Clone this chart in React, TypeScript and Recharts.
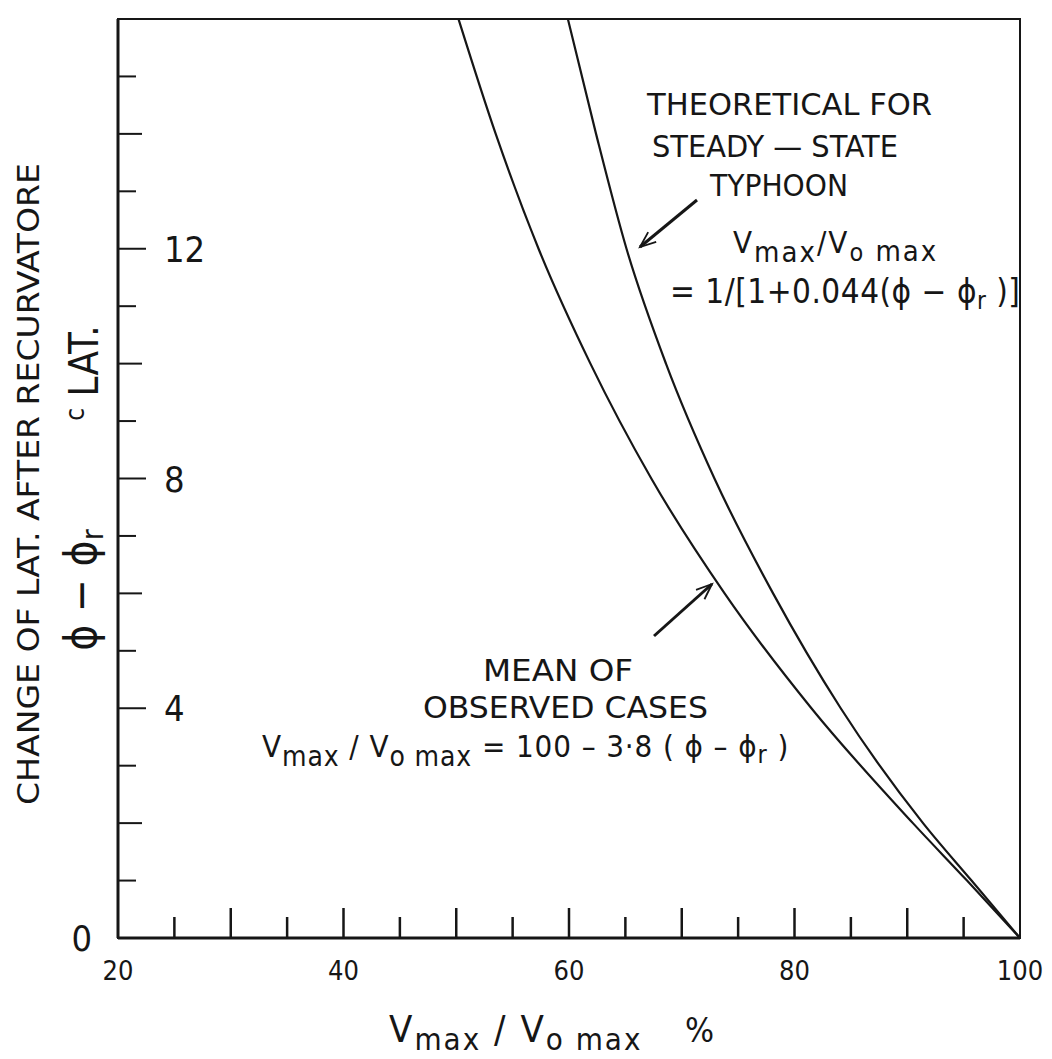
import { LineChart, Line, XAxis, YAxis, ReferenceArea } from 'recharts';

// Vmax / Vo max (%) read at every 2 deg of latitude change after recurvature
const meanPct = [50.2, 53.5, 57.3, 61.9, 67.3, 73.8, 81.5, 90.5, 95.3, 100];
const meanLat = [16, 14, 12, 10, 8, 6, 4, 2, 1, 0];
const theoPct = [59.9, 62.4, 65.1, 68.6, 72.9, 78.1, 84.1, 91.4, 95.7, 100];
const theoLat = [16, 14, 12, 10, 8, 6, 4, 2, 1, 0];

const xTicks = [20, 25, 30, 35, 40, 45, 50, 55, 60, 65, 70, 75, 80, 85, 90, 95, 100];
const xTickLabels = [20, 40, 60, 80, 100];
const yTicks = [0, 1, 2, 3, 4, 5, 6, 7, 8, 9, 10, 11, 12, 13, 14, 15, 16];
const yTickLabels = [0, 4, 8, 12];

const meanData = meanPct.map((x, i) => ({ x, y: meanLat[i] }));
const theoData = theoPct.map((x, i) => ({ x, y: theoLat[i] }));

const INK = '#161616';
const FONT = "'DejaVu Sans Condensed', 'Liberation Sans Narrow', 'Roboto Condensed', 'DejaVu Sans', sans-serif";

const W = 1036;
const H = 1051;

const XTick = (props: any) => {
    const { x, y, payload } = props;
    const v = payload.value;
    const major = v % 10 === 0;
    return (
        <g>
            {v > 20 && v < 100 && (
                <line x1={x} x2={x} y1={y} y2={y - (major ? 30 : 21)} stroke={INK} strokeWidth={2.5} />
            )}
            {xTickLabels.includes(v) && (
                <text x={x} y={y + 42} textAnchor="middle" fontSize={27} fontFamily={FONT} fill={INK}>
                    {v}
                </text>
            )}
        </g>
    );
};

const YTick = (props: any) => {
    const { x, y, payload } = props;
    const v = payload.value;
    const major = v % 4 === 0;
    const len = major ? 28 : v % 2 === 0 ? 24 : 18;
    return (
        <g>
            {v > 0 && v < 16 && <line x1={x} x2={x + len} y1={y} y2={y} stroke={INK} strokeWidth={2} />}
            {yTickLabels.includes(v) && (
                <text
                    x={v === 0 ? x - 26 : x + 46}
                    y={y + 13}
                    textAnchor={v === 0 ? 'end' : 'start'}
                    fontSize={36}
                    fontFamily={FONT}
                    fill={INK}
                >
                    {v}
                </text>
            )}
        </g>
    );
};

const Arrow = ({ x1, y1, x2, y2 }: { x1: number; y1: number; x2: number; y2: number }) => {
    const a = Math.atan2(y2 - y1, x2 - x1);
    const h = 17;
    const p1 = [x2 - h * Math.cos(a - 0.38), y2 - h * Math.sin(a - 0.38)];
    const p2 = [x2 - h * Math.cos(a + 0.38), y2 - h * Math.sin(a + 0.38)];
    return (
        <g stroke={INK} fill="none">
            <line x1={x1} y1={y1} x2={x2} y2={y2} strokeWidth={3} />
            <polyline points={`${p1[0]},${p1[1]} ${x2},${y2} ${p2[0]},${p2[1]}`} strokeWidth={1.8} />
        </g>
    );
};

const Annotations = () => (
    <svg
        width={W}
        height={H}
        style={{ position: 'absolute', left: 0, top: 0, pointerEvents: 'none' }}
        fontFamily={FONT}
        fill={INK}
        xmlSpace="preserve"
    >
        {/* y axis title */}
        <text transform="translate(31,476) rotate(-90)" textAnchor="middle" fontSize={30} textLength={642} lengthAdjust="spacingAndGlyphs">
            CHANGE OF LAT.  AFTER RECURVATORE
        </text>
        <text transform="translate(88,582) rotate(-90)" textAnchor="middle" fontSize={44}>
            ϕ − ϕ<tspan fontSize={30} dy={7}>r</tspan>
        </text>
        <text transform="translate(90,365) rotate(-90)" textAnchor="middle" fontSize={40}>
            <tspan fontSize={26} dy={-14}>c</tspan>
            <tspan dy={14}> LAT.</tspan>
        </text>

        {/* theoretical curve note */}
        <text x={639} y={107} fontSize={31} textLength={285} lengthAdjust="spacingAndGlyphs">THEORETICAL  FOR</text>
        <text x={644} y={149} fontSize={31} textLength={246} lengthAdjust="spacingAndGlyphs">STEADY — STATE</text>
        <text x={702} y={188} fontSize={31} textLength={138} lengthAdjust="spacingAndGlyphs">TYPHOON</text>
        <Arrow x1={689} y1={192} x2={632} y2={239} />
        <text x={725} y={245} fontSize={31} letterSpacing={2}>
            V<tspan fontSize={29} dy={9}>max</tspan>
            <tspan dy={-9}>/V</tspan>
            <tspan fontSize={25} dy={8}>o</tspan>
            <tspan fontSize={29}> max</tspan>
        </text>
        <text x={662} y={295} fontSize={33} letterSpacing={0.5}>
            = 1/[1+0.044(ϕ − ϕ<tspan fontSize={24} dy={6}>r</tspan>
            <tspan dy={-6}> )]</tspan>
        </text>

        {/* observed mean note */}
        <Arrow x1={646} y1={628} x2={704} y2={576} />
        <text x={475} y={673} fontSize={31} textLength={150} lengthAdjust="spacingAndGlyphs">MEAN OF</text>
        <text x={415} y={710} fontSize={31} textLength={285} lengthAdjust="spacingAndGlyphs">OBSERVED CASES</text>
        <text x={254} y={749} fontSize={31} letterSpacing={0.9}>
            V<tspan fontSize={28} dy={9}>max</tspan>
            <tspan dy={-9}> / V</tspan>
            <tspan fontSize={28} dy={9}>o max</tspan>
            <tspan dy={-9}> = 100 – 3·8 ( ϕ – ϕ</tspan>
            <tspan fontSize={25} dy={6}>r</tspan>
            <tspan dy={-6}> )</tspan>
        </text>

        {/* x axis title */}
        <text x={381} y={1034} fontSize={38} letterSpacing={2}>
            V<tspan fontSize={31} dy={8}>max</tspan>
            <tspan dy={-8}> / V</tspan>
            <tspan fontSize={31} dy={8}>o max</tspan>
        </text>
        <text x={677} y={1034} fontSize={34}>%</text>
    </svg>
);

export default function App() {
    return (
        <div style={{ position: 'relative', width: W, height: H, background: '#fff' }}>
            <LineChart width={W} height={H} margin={{ top: 11, right: 24, bottom: 120, left: 109 }}>
                <XAxis
                    dataKey="x"
                    type="number"
                    domain={[20, 100]}
                    ticks={xTicks}
                    interval={0}
                    height={1}
                    tickSize={0}
                    tickMargin={0}
                    tickLine={false}
                    axisLine={{ stroke: INK, strokeWidth: 3 }}
                    tick={XTick}
                    allowDataOverflow
                />
                <YAxis
                    dataKey="y"
                    type="number"
                    domain={[0, 16]}
                    ticks={yTicks}
                    interval={0}
                    width={1}
                    tickSize={0}
                    tickMargin={0}
                    tickLine={false}
                    axisLine={{ stroke: INK, strokeWidth: 3 }}
                    tick={YTick}
                    allowDataOverflow
                />
                <ReferenceArea x1={20} x2={100} y1={0} y2={16} fill="none" stroke={INK} strokeWidth={2} />
                <Line data={meanData} dataKey="y" type="monotone" stroke={INK} strokeWidth={2.2} dot={false} isAnimationActive={false} />
                <Line data={theoData} dataKey="y" type="monotone" stroke={INK} strokeWidth={2.2} dot={false} isAnimationActive={false} />
            </LineChart>
            <Annotations />
        </div>
    );
}
